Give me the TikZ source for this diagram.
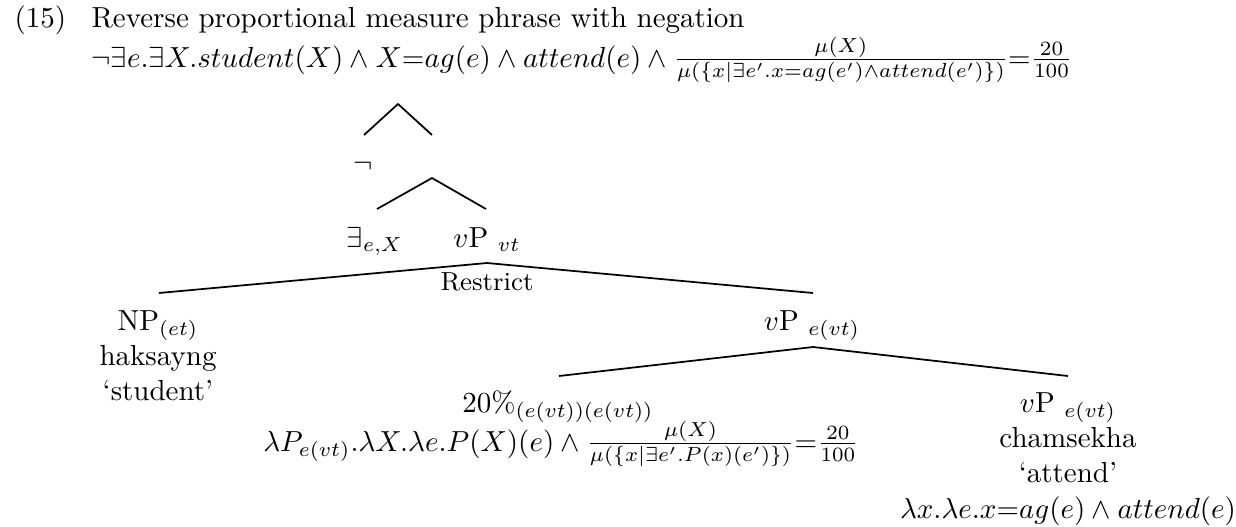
\documentclass[tikz,border=0pt]{standalone}
\begin{document}
\begin{tikzpicture}[x=0.3448pt,y=-0.3448pt,
  lbl/.style={inner sep=0pt, anchor=base},
  lblw/.style={inner sep=0pt, anchor=base west},
  branch/.style={line width=0.6pt}]
\useasboundingbox (0,0) rectangle (1236,526);
% header
\node[lblw] (num) at (14,27) {(15)};
\node[lblw] (title) at (91,27) {Reverse proportional measure phrase with negation};
\node[lblw] (form) at (91,67) {$\neg\exists e.\exists X.student(X)\wedge X{=}ag(e)\wedge attend(e)\wedge \frac{\mu(X)}{\mu(\{x|\exists e'.x{=}ag(e')\wedge attend(e')\})}{=}\frac{20}{100}$};
% level 0 / 1
\coordinate (root) at (398,104);
\coordinate (rootL) at (364,135);
\coordinate (rootR) at (432,135);
\node[lbl] (neg) at (363,172) {$\neg$};
\coordinate (n2) at (432,178);
\coordinate (n2L) at (377,209);
\coordinate (n2R) at (486,209);
\node[lbl] (ex) at (375,247) {$\exists_{e,X}$};
\node[lbl] (vpvt) at (487,247) {$v$P $_{vt}$};
% Restrict
\coordinate (n3) at (487,263);
\coordinate (n3L) at (159,293);
\coordinate (n3R) at (813,293);
\node[lbl, font=\small] (restr) at (487,290) {Restrict};
\node[lbl] (np) at (158,330) {NP$_{(et)}$};
\node[lbl] (np2) at (158,365) {haksayng};
\node[lbl] (np3) at (158,400) {`student'};
\node[lbl] (vpevt) at (812,330) {$v$P $_{e(vt)}$};
% lower
\coordinate (n4) at (813,347);
\coordinate (n4L) at (559,376);
\coordinate (n4R) at (1068,376);
\node[lbl] (pct) at (558,412) {20\%$_{(e(vt))(e(vt))}$};
\node[lbl] (pct2) at (561,451) {$\lambda P_{e(vt)}.\lambda X.\lambda e.P(X)(e)\wedge \frac{\mu(X)}{\mu(\{x|\exists e'.P(x)(e')\})}{=}\frac{20}{100}$};
\node[lbl] (vp3) at (1068,412) {$v$P $_{e(vt)}$};
\node[lbl] (vp3b) at (1068,447) {chamsekha};
\node[lbl] (vp3c) at (1068,482) {`attend'};
\node[lbl] (vp3d) at (1068,518) {$\lambda x.\lambda e.x{=}ag(e)\wedge attend(e)$};
% branches
\draw[branch] (rootL) -- (root) -- (rootR);
\draw[branch] (n2L) -- (n2) -- (n2R);
\draw[branch] (n3L) -- (n3) -- (n3R);
\draw[branch] (n4L) -- (n4) -- (n4R);
\end{tikzpicture}
\end{document}
